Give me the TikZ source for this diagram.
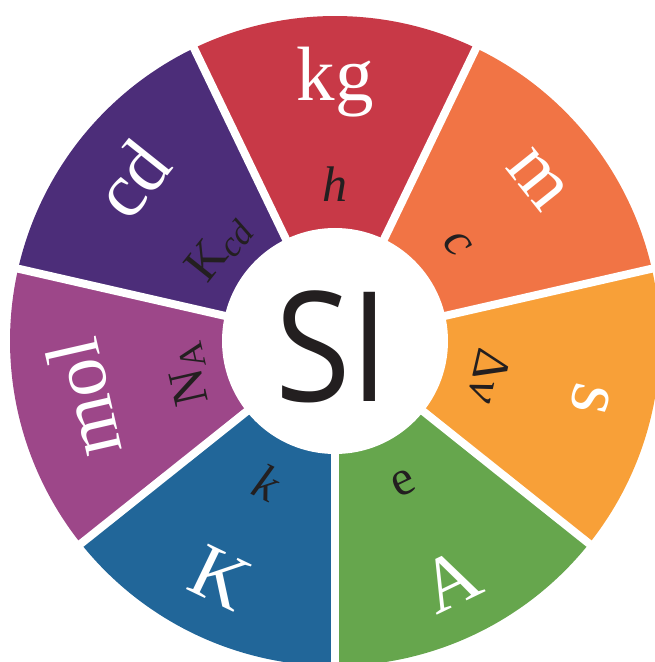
\documentclass[tikz,border=0pt]{standalone}
\usepackage{fontspec}
\setmainfont{Liberation Serif}
\newfontfamily\sisans{Open Sans}
\definecolor{cKg}{HTML}{C83947}
\definecolor{cM}{HTML}{F17445}
\definecolor{cS}{HTML}{F8A038}
\definecolor{cA}{HTML}{66A64D}
\definecolor{cK}{HTML}{216699}
\definecolor{cMol}{HTML}{9D4789}
\definecolor{cCd}{HTML}{4C2D79}
\definecolor{cTxt}{HTML}{231F20}
\tikzset{
  unitlbl/.style={text=white, font=\fontsize{77}{77}\selectfont, inner sep=0pt},
  constlbl/.style={text=cTxt, font=\fontsize{50}{50}\selectfont, inner sep=0pt},
  sepline/.style={white, line width=8pt}
}
\begin{document}
\begin{tikzpicture}[x=1pt,y=1pt]
\useasboundingbox (0,0) rectangle (655,662);
\clip (0,0) rectangle (655,662);
\begin{scope}[shift={(335,321)}]
  % sectors
  \fill[cKg]  (0,0) -- (64.2857:325pt)  arc[start angle=64.2857,  end angle=115.7143, radius=325pt] -- cycle;
  \fill[cM]   (0,0) -- (12.8571:325pt)  arc[start angle=12.8571,  end angle=64.2857,  radius=325pt] -- cycle;
  \fill[cS]   (0,0) -- (-38.5714:325pt) arc[start angle=-38.5714, end angle=12.8571,  radius=325pt] -- cycle;
  \fill[cA]   (0,0) -- (-90:325pt)      arc[start angle=-90,      end angle=-38.5714, radius=325pt] -- cycle;
  \fill[cK]   (0,0) -- (-141.4286:325pt) arc[start angle=-141.4286, end angle=-90,    radius=325pt] -- cycle;
  \fill[cMol] (0,0) -- (167.1429:325pt) arc[start angle=167.1429, end angle=218.5714, radius=325pt] -- cycle;
  \fill[cCd]  (0,0) -- (115.7143:325pt) arc[start angle=115.7143, end angle=167.1429, radius=325pt] -- cycle;
  % separators
  \foreach \a in {-90,-38.5714,12.8571,64.2857,115.7143,167.1429,218.5714}
    \draw[sepline] (0,0) -- (\a:340pt);
  % inner disc
  \fill[white] (0,0) circle (113pt);
  \node[font=\sisans\fontsize{153}{153}\selectfont, text=cTxt, inner sep=0pt] (si) at (-3pt,-6pt) {\scalebox{0.9}[1]{SI}};
  % units
  \node[unitlbl, rotate=0]       (kg)  at (90:259pt)      {kg};
  \node[unitlbl, rotate=-51.43]  (m)   at (38.57:259pt)   {m};
  \node[unitlbl, rotate=-102.86] (s)   at (-12.86:262pt)  {s};
  \node[unitlbl, rotate=25.71]   (A)   at (-64.29:266pt)  {A};
  \node[unitlbl, rotate=-25.71]  (K)   at (-115.71:263pt) {K};
  \node[unitlbl, rotate=102.86]  (mol) at (192.86:258pt)  {mol};
  \node[unitlbl, rotate=51.43]   (cd)  at (141.43:260pt)  {cd};
  % constants
  \node[constlbl, rotate=0]       (h)   at (90:157pt)      {\itshape h};
  \node[constlbl, rotate=-51.43]  (c)   at (38.57:156pt)   {\itshape c};
  \node[constlbl, rotate=-102.86] (dnu) at (-12.86:158pt)  {Δ\itshape ν};
  \node[constlbl, rotate=25.71]   (e)   at (-64.29:158pt)  {e};
  \node[constlbl, rotate=-25.71]  (k)   at (-115.71:157pt) {\itshape k};
  \node[constlbl, rotate=102.86]  (NA)  at (192.86:150pt)  {N\raisebox{-0.25ex}{\fontsize{36}{36}\selectfont A}};
  \node[constlbl, rotate=51.43]   (Kcd) at (141.43:148pt)  {K\raisebox{-0.25ex}{\fontsize{36}{36}\selectfont\itshape cd}};
\end{scope}
\end{tikzpicture}
\end{document}
